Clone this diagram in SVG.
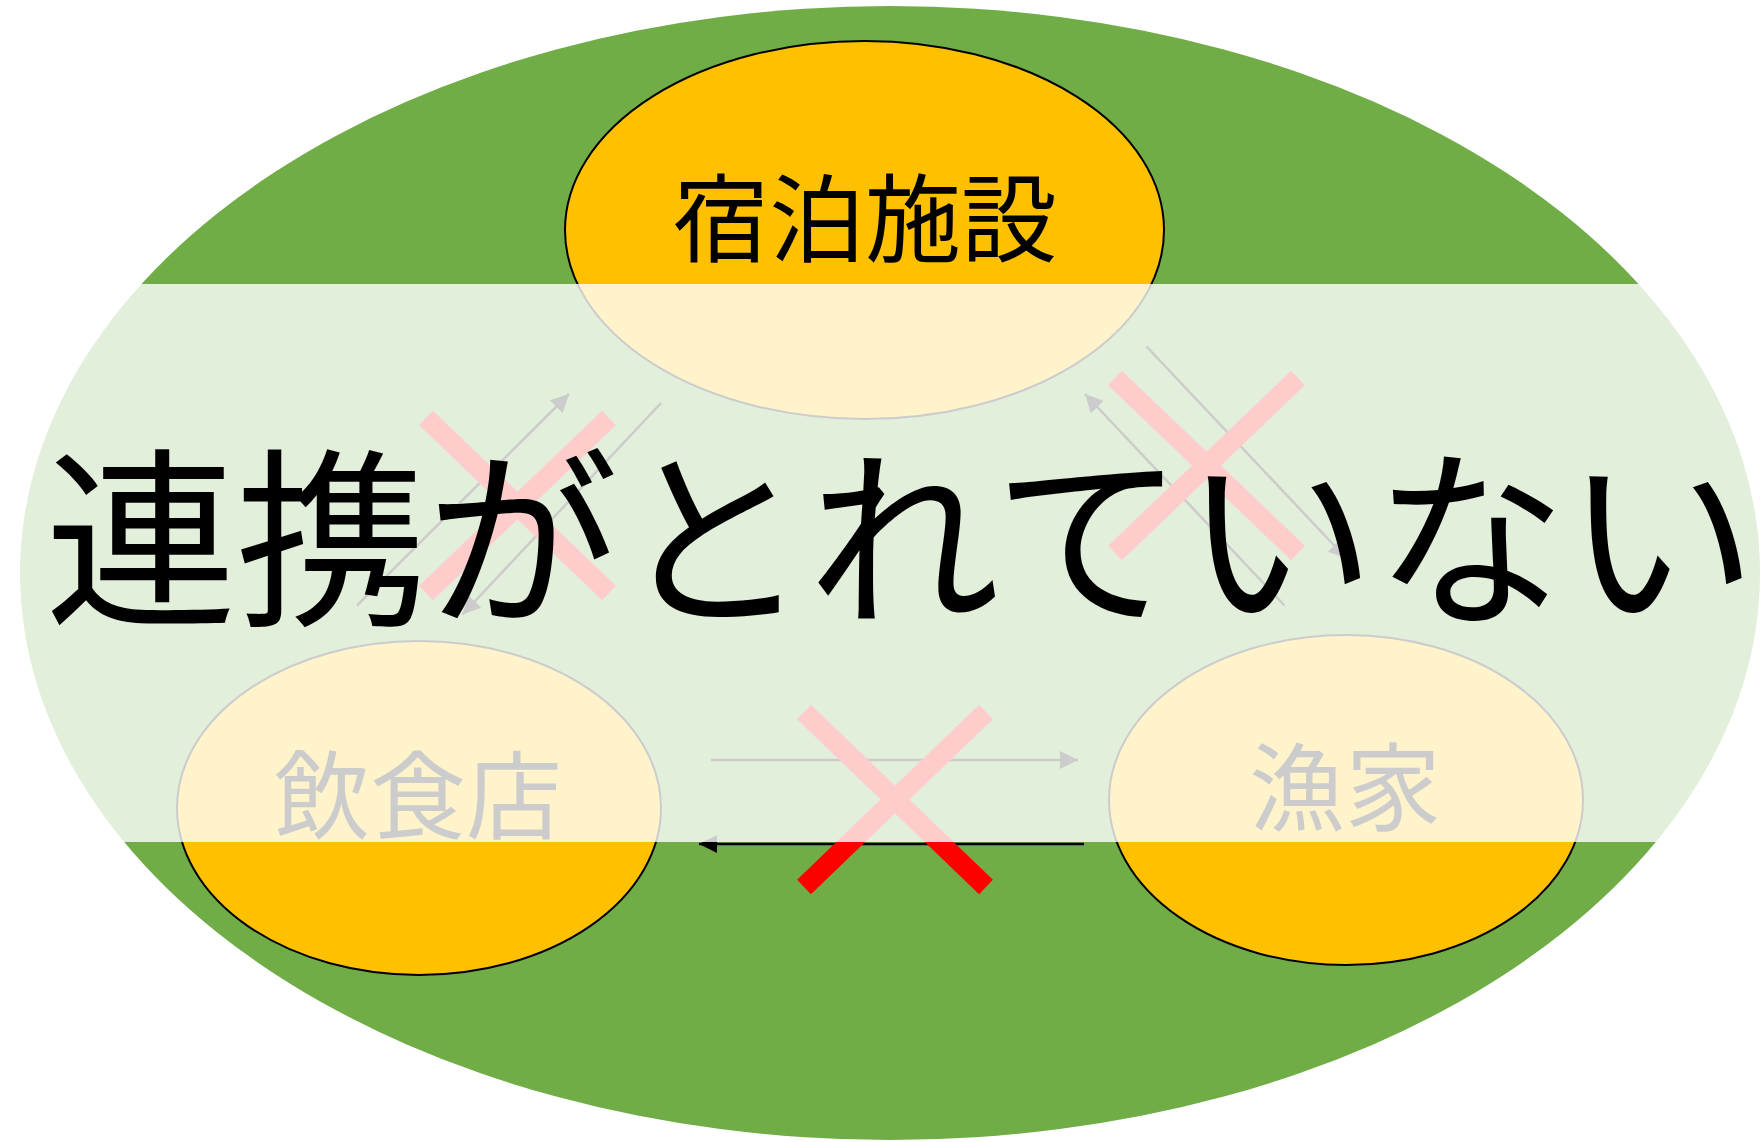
<svg xmlns="http://www.w3.org/2000/svg" width="1762" height="1142" viewBox="0 0 1762 1142">
  <defs>
    <style>
      .node { fill: #FFC000; stroke: #000000; stroke-width: 2; }
      .label { font-family: "Liberation Sans", "Noto Sans CJK JP", sans-serif; font-size: 96px; fill: #000000; text-anchor: middle; }
      .arrow { stroke: #000000; stroke-width: 2.5; fill: none; marker-end: url(#head); }
      .cross { stroke: #FF0000; stroke-width: 20; stroke-linecap: butt; fill: none; }
      .title { font-family: "Liberation Sans", "Noto Sans CJK JP", sans-serif; font-size: 192px; fill: #000000; }
    </style>
    <marker id="head" markerUnits="userSpaceOnUse" markerWidth="18" markerHeight="18" viewBox="0 0 16 16" refX="16" refY="8" orient="auto">
      <path d="M0,0 L16,8 L0,16 Z" fill="#000000"/>
    </marker>
  </defs>

  <g id="background">
    <ellipse cx="890" cy="573" rx="870" ry="567" fill="#70AD47"/>
  </g>

  <g id="node-lodging">
    <ellipse class="node" cx="864.5" cy="230" rx="299.5" ry="189"/>
    <text class="label" x="865" y="254">宿泊施設</text>
  </g>
  <g id="node-restaurant">
    <ellipse class="node" cx="419" cy="808" rx="242" ry="167"/>
    <text class="label" x="418" y="831">飲食店</text>
  </g>
  <g id="node-fishery">
    <ellipse class="node" cx="1346" cy="800" rx="237" ry="165"/>
    <text class="label" x="1345" y="823">漁家</text>
  </g>

  <g id="connectors">
    <line class="arrow" x1="357" y1="605.5" x2="569" y2="394"/>
    <line class="arrow" x1="661" y1="403" x2="462.5" y2="614.5"/>
    <line class="arrow" x1="1146.5" y1="346.5" x2="1346.5" y2="558.5"/>
    <line class="arrow" x1="1284.5" y1="605.5" x2="1085" y2="394"/>
    <line class="arrow" x1="711" y1="760" x2="1078" y2="760"/>
    <line class="arrow" x1="1084" y1="844" x2="699" y2="844"/>
    <g id="crosses">
      <line class="cross" x1="426" y1="418" x2="609" y2="593"/>
      <line class="cross" x1="609" y1="418" x2="426" y2="593"/>
      <line class="cross" x1="1115" y1="378" x2="1298" y2="553"/>
      <line class="cross" x1="1298" y1="378" x2="1115" y2="553"/>
      <line class="cross" x1="804" y1="712" x2="986" y2="887"/>
      <line class="cross" x1="986" y1="712" x2="804" y2="887"/>
    </g>
  </g>

  <g id="overlay-band">
    <rect x="0" y="284" width="1762" height="558" fill="#FFFFFF" fill-opacity="0.8"/>
    <text class="title" x="45" y="611" textLength="1712" lengthAdjust="spacing">連携がとれていない</text>
  </g>
</svg>
